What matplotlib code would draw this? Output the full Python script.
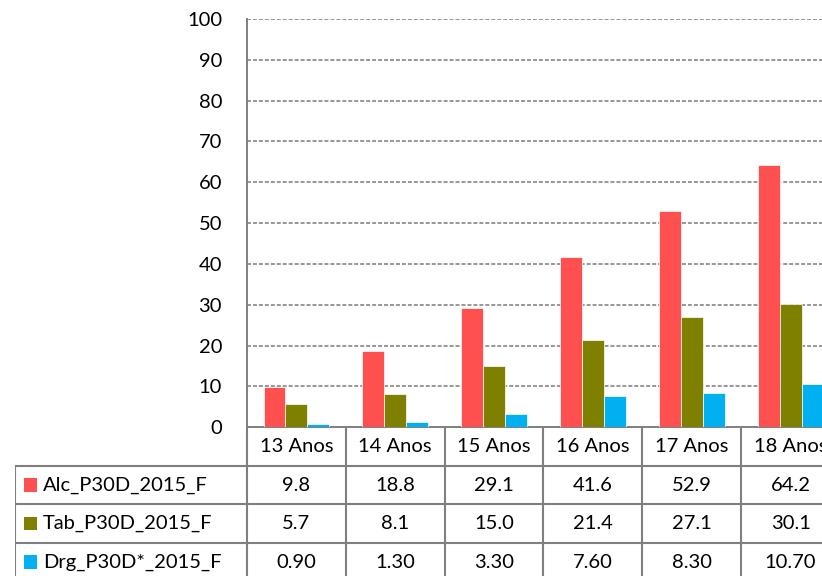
import matplotlib
matplotlib.use("Agg")
import matplotlib.pyplot as plt
import numpy as np

plt.rcParams['font.family'] = ['Lato', 'DejaVu Sans']

# dados
idades = ["13 Anos", "14 Anos", "15 Anos", "16 Anos", "17 Anos", "18 Anos"]
series = ["Alc_P30D_2015_F", "Tab_P30D_2015_F", "Drg_P30D*_2015_F"]
alc = [9.8, 18.8, 29.1, 41.6, 52.9, 64.2]
tab = [5.7, 8.1, 15.0, 21.4, 27.1, 30.1]
drg = [0.90, 1.30, 3.30, 7.60, 8.30, 10.70]
txt_alc = ["9.8", "18.8", "29.1", "41.6", "52.9", "64.2"]
txt_tab = ["5.7", "8.1", "15.0", "21.4", "27.1", "30.1"]
txt_drg = ["0.90", "1.30", "3.30", "7.60", "8.30", "10.70"]
cores = ["#FF5050", "#808000", "#00B0F0"]

W, H = 822, 576
fig = plt.figure(figsize=(W / 100, H / 100), dpi=100)

col = 98.83          # largura de uma coluna em px
x0_px = 247          # eixo y
y0_px = 427.3        # linha do zero
ytop_px = 19
ncol = len(idades)
fs = 14.5

ax = fig.add_axes([x0_px / W, (H - y0_px) / H, ncol * col / W, (y0_px - ytop_px) / H])
x = np.arange(ncol)
bw = 0.222
for i, vals in enumerate([alc, tab, drg]):
    ax.bar(x + (i - 1) * bw, vals, bw, color=cores[i], edgecolor='#ffffff',
           linewidth=0.5, zorder=3)

ax.set_xlim(-0.5, ncol - 0.5)
ax.set_ylim(0, 100)
ax.set_yticks(range(0, 101, 10))
ax.set_xticks([])
ax.yaxis.grid(True, color='#7a7a7a', linestyle=(0, (2.6, 1.3)), linewidth=1.1)
ax.set_axisbelow(True)
for s in ['top', 'right']:
    ax.spines[s].set_visible(False)
for s in ['left', 'bottom']:
    ax.spines[s].set_color('#7f7f7f')
    ax.spines[s].set_linewidth(1.4)
ax.tick_params(axis='y', length=0, pad=18, labelsize=fs, labelcolor='#000000')
ax.patch.set_alpha(0)

# tabela de dados por baixo
row_h = 38.5
lab_w = (x0_px - 15) / col
tax = fig.add_axes([15 / W, (H - y0_px - 4 * row_h) / H, (ncol * col + x0_px - 15) / W, 4 * row_h / H])
tax.set_xlim(-0.5 - lab_w, ncol - 0.5)
tax.set_ylim(4, 0)
tax.axis('off')
lc = '#7f7f7f'
lw = 1.5
# linhas horizontais
tax.hlines([1, 2, 3, 4], -0.5 - lab_w, ncol - 0.5, color=lc, lw=lw)
# linhas verticais
tax.vlines(np.arange(ncol + 1) - 0.5, 0, 4, color=lc, lw=lw)
tax.vlines(-0.5 - lab_w, 1, 4, color=lc, lw=lw)

for j, nome in enumerate(idades):
    tax.text(j, 0.5, nome, ha='center', va='center', fontsize=fs)
for r, (nome, txts) in enumerate(zip(series, [txt_alc, txt_tab, txt_drg])):
    yy = r + 1.5
    tax.scatter(-0.5 - lab_w + 0.155, yy, marker='s', s=95, color=cores[r],
                edgecolor='none', clip_on=False)
    tax.text(-0.5 - lab_w + 0.28, yy, nome, ha='left', va='center', fontsize=fs)
    for j, t in enumerate(txts):
        tax.text(j, yy, t, ha='center', va='center', fontsize=fs)

fig.savefig("out.png", dpi=100)
